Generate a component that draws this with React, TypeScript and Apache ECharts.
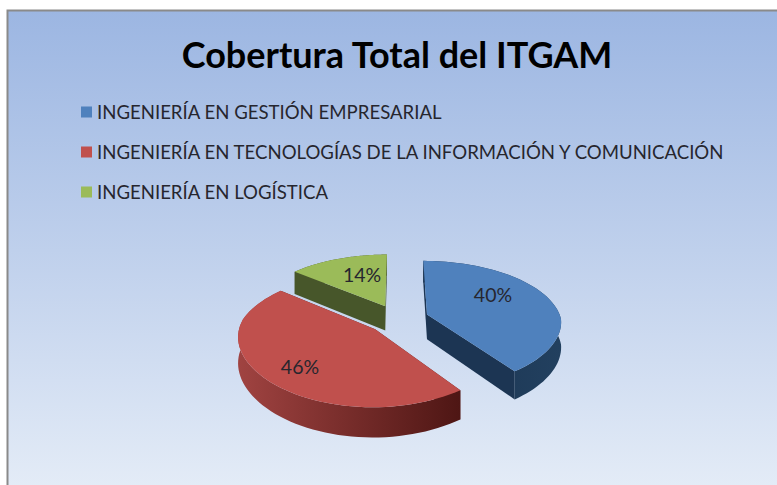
import React, { useEffect, useRef } from "react";
import * as echarts from "echarts";

const titleText = "Cobertura Total del ITGAM";
const categories = [
  "INGENIERÍA EN GESTIÓN EMPRESARIAL",
  "INGENIERÍA EN TECNOLOGÍAS DE LA INFORMACIÓN Y COMUNICACIÓN",
  "INGENIERÍA EN LOGÍSTICA",
];
const values = [40, 46, 14];

const topColors = ["#4f81bd", "#c0504d", "#9bbb59"];
const faceColors = ["#1c3553", "#5e1d1b", "#47562a"];
const rimStops = [
  ["#1a3350", "#22405f"],
  ["#a04341", "#4e1614"],
  ["#47562a", "#47562a"],
];
const labelNudges = [
  [5, -11],
  [-23, 13],
  [2, -7],
];
const drawOrder = [2, 0, 1];

const CX = 398, CY = 319, A = 134, B = 63, P = 0.15, PX_NEAR = 0.1, DEPTH = 25, EXPLODE = 0.23;
const total = values.reduce((a, b) => a + b, 0);

function project(u: number, v: number, drop = 0): [number, number] {
  const s = 1 / (1 - P * v);
  const sx = 1 / (1 - (v > 0 ? PX_NEAR : P) * v);
  return [CX + A * u * sx, CY + B * v * s + drop * s];
}

function sliceAngles(i: number) {
  const before = values.slice(0, i).reduce((a, b) => a + b, 0);
  return [(before / total) * Math.PI * 2, ((before + values[i]) / total) * Math.PI * 2];
}

function renderSlice(i: number) {
  return (_params: any, api: any) => {
    const value = api.value(0);
    const [a0] = sliceAngles(i);
    const a1 = a0 + (value / total) * Math.PI * 2;
    const mid = (a0 + a1) / 2;
    const ox = EXPLODE * Math.sin(mid);
    const oy = -EXPLODE * Math.cos(mid);
    const rim = (drop: number) => {
      const pts: [number, number][] = [];
      for (let k = 0; k <= 64; k++) {
        const t = a0 + ((a1 - a0) * k) / 64;
        pts.push(project(ox + Math.sin(t), oy - Math.cos(t), drop));
      }
      return pts;
    };
    const apexTop = project(ox, oy);
    const apexBottom = project(ox, oy, DEPTH);
    const top = rim(0);
    const bottom = rim(DEPTH);
    const first = top[0], last = top[top.length - 1];
    const firstB = bottom[0], lastB = bottom[bottom.length - 1];
    const lp = project(ox * (1 + 0.5 / EXPLODE), oy * (1 + 0.5 / EXPLODE));
    const poly = (points: [number, number][], fill: any) => ({
      type: "polygon",
      shape: { points },
      style: { fill, stroke: null },
      silent: true,
    });
    return {
      type: "group",
      children: [
        poly([apexTop, first, firstB, apexBottom], faceColors[i]),
        poly([apexTop, last, lastB, apexBottom], faceColors[i]),
        poly([...top, ...bottom.slice().reverse()], {
          type: "linear",
          x: 0,
          y: 0,
          x2: 1,
          y2: 0,
          colorStops: [
            { offset: 0, color: rimStops[i][0] },
            { offset: 1, color: rimStops[i][1] },
          ],
        }),
        poly([apexTop, ...top], topColors[i]),
        {
          type: "text",
          x: lp[0] + labelNudges[i][0],
          y: lp[1] + labelNudges[i][1],
          silent: true,
          style: {
            text: `${value}%`,
            fill: "#26262e",
            font: "19.5px Lato, sans-serif",
            align: "center",
            verticalAlign: "middle",
          },
        },
      ],
    };
  };
}

export default function App() {
  const ref = useRef<HTMLDivElement>(null);
  useEffect(() => {
    const chart = echarts.init(ref.current!, null, { renderer: "svg" });
    chart.setOption({
      animation: false,
      backgroundColor: "#ffffff",
      graphic: [
        {
          type: "rect",
          z: -10,
          silent: true,
          shape: { x: 7.5, y: 10.5, width: 772, height: 480 },
          style: {
            fill: {
              type: "linear",
              x: 0,
              y: 0,
              x2: 0,
              y2: 1,
              colorStops: [
                { offset: 0, color: "#9cb6e2" },
                { offset: 0.5, color: "#bfd0ec" },
                { offset: 1, color: "#e4ecf7" },
              ],
            },
            stroke: "#8a8a8a",
            lineWidth: 2,
          },
        },
      ],
      title: {
        text: titleText,
        left: 392,
        top: 31,
        textAlign: "center",
        textStyle: {
          fontFamily: "Lato, sans-serif",
          fontWeight: "bold",
          fontSize: 36,
          color: "#000000",
        },
      },
      legend: {
        orient: "vertical",
        left: 76,
        top: 97,
        itemWidth: 11,
        itemHeight: 11,
        itemGap: 20,
        selectedMode: false,
        icon: "rect",
        data: categories,
        textStyle: {
          fontFamily: "Lato, sans-serif",
          fontSize: 18.6,
          lineHeight: 20,
          color: "#26262e",
        },
      },
      series: drawOrder.map((i) => ({
        type: "custom",
        name: categories[i],
        coordinateSystem: "none",
        itemStyle: { color: topColors[i] },
        data: [[values[i]]],
        renderItem: renderSlice(i),
      })),
    });
    return () => chart.dispose();
  }, []);
  return (
    <div
      ref={ref}
      style={{ position: "fixed", left: 0, top: 0, width: 777, height: 485 }}
    />
  );
}
